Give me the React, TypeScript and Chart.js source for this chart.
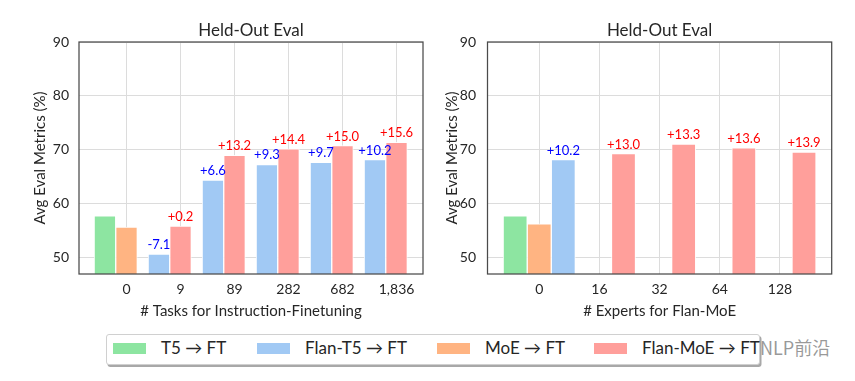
import React, { useEffect, useRef } from 'react';
import { Chart, registerables } from 'chart.js';

Chart.register(...registerables);

const FONT = 'Lato, "DejaVu Sans", sans-serif';
const TEXT = '#262626';

// ---- Left panel: number of tasks ----
const taskLabels = ['0', '9', '89', '282', '682', '1,836'];
const taskT5 = [57.8, null, null, null, null, null];
const taskMoE = [55.7, null, null, null, null, null];
const taskFlanT5 = [null, 50.7, 64.4, 67.3, 67.7, 68.2];
const taskFlanT5Gain = ['', '-7.1', '+6.6', '+9.3', '+9.7', '+10.2'];
const taskFlanMoE = [null, 55.9, 69.0, 70.2, 70.8, 71.4];
const taskFlanMoEGain = ['', '+0.2', '+13.2', '+14.4', '+15.0', '+15.6'];

// ---- Right panel: number of experts ----
const expertLabels = ['0', '16', '32', '64', '128'];
const expertT5 = [57.8, null, null, null, null];
const expertMoE = [56.3, null, null, null, null];
const expertFlanT5 = [68.2, null, null, null, null];
const expertFlanT5Gain = ['+10.2', '', '', '', ''];
const expertFlanMoE = [null, 69.3, 71.1, 70.4, 69.6];
const expertFlanMoEGain = ['', '+13.0', '+13.3', '+13.6', '+13.9'];

const yTicks = [50, 60, 70, 80, 90];

const legendNames = ['T5 → FT', 'Flan-T5 → FT', 'MoE → FT', 'Flan-MoE → FT'];

const GREEN = '#8de5a1';
const BLUE = '#a1c9f4';
const ORANGE = '#ffb482';
const RED = '#ff9f9b';

function series(values: (number | null)[], offset: number, color: string, gains?: string[], gainColor?: string) {
  const data: { x: number; y: number }[] = [];
  const labels: string[] = [];
  values.forEach((v, i) => {
    if (v != null) {
      data.push({ x: i + offset, y: v });
      labels.push(gains ? gains[i] : '');
    }
  });
  return {
    data,
    backgroundColor: color,
    borderColor: 'rgba(255,255,255,0.85)',
    borderWidth: 1,
    grouped: false,
    barPercentage: 1,
    categoryPercentage: 1,
    gainLabels: labels,
    gainColor: gainColor || '#000',
  };
}

const decor = {
  id: 'decor',
  afterDatasetsDraw(chart: any, _args: any, opts: any) {
    const { ctx, chartArea: a } = chart;
    ctx.save();
    chart.data.datasets.forEach((ds: any, di: number) => {
      const meta = chart.getDatasetMeta(di);
      meta.data.forEach((el: any, i: number) => {
        const t = ds.gainLabels && ds.gainLabels[i];
        if (!t) return;
        ctx.fillStyle = ds.gainColor;
        ctx.font = `13px ${FONT}`;
        ctx.textAlign = 'center';
        ctx.textBaseline = 'alphabetic';
        ctx.fillText(t, el.x, el.y - 5);
      });
    });
    ctx.strokeStyle = '#4a4a4a';
    ctx.lineWidth = 1.25;
    ctx.strokeRect(a.left, a.top, a.right - a.left, a.bottom - a.top);
    ctx.fillStyle = TEXT;
    ctx.font = `17px ${FONT}`;
    ctx.textAlign = 'center';
    ctx.textBaseline = 'middle';
    ctx.fillText(opts.title, (a.left + a.right) / 2, a.top - 11);
    ctx.restore();
  },
};

function makeConfig(p: {
  labels: string[];
  datasets: any[];
  xMin: number;
  xMax: number;
  xTitle: string;
  yWidth: number;
  yPad: number;
  yTitlePad: number;
  padRight: number;
}) {
  return {
    type: 'bar',
    data: { datasets: p.datasets },
    plugins: [decor],
    options: {
      animation: false,
      responsive: false,
      maintainAspectRatio: false,
      layout: { padding: { top: 42, right: p.padRight, left: 0, bottom: 0 } },
      plugins: {
        legend: { display: false },
        tooltip: { enabled: false },
        title: { display: false },
        decor: { title: 'Held-Out Eval' },
      },
      scales: {
        x: {
          type: 'linear',
          min: p.xMin,
          max: p.xMax,
          offset: false,
          afterBuildTicks: (s: any) => {
            s.ticks = p.labels.map((_, i) => ({ value: i }));
          },
          afterFit: (s: any) => {
            s.height = 56;
          },
          ticks: {
            callback: (_v: any, i: number) => p.labels[i],
            font: { family: FONT, size: 14 },
            color: TEXT,
            padding: 7,
            maxRotation: 0,
            autoSkip: false,
          },
          grid: { color: '#dcdcdc', lineWidth: 1, drawTicks: false, offset: false },
          border: { display: false },
          title: {
            display: true,
            text: p.xTitle,
            font: { family: FONT, size: 15 },
            color: TEXT,
            padding: { top: 0, bottom: 10 },
          },
        },
        y: {
          min: 47,
          max: 90,
          afterBuildTicks: (s: any) => {
            s.ticks = yTicks.map((v) => ({ value: v }));
          },
          afterFit: (s: any) => {
            s.width = p.yWidth;
          },
          ticks: {
            font: { family: FONT, size: 14 },
            color: TEXT,
            padding: p.yPad,
          },
          grid: { color: '#dcdcdc', lineWidth: 1, drawTicks: false },
          border: { display: false },
          title: {
            display: true,
            text: 'Avg Eval Metrics (%)',
            font: { family: FONT, size: 15 },
            color: TEXT,
            padding: { top: p.yTitlePad, bottom: 0 },
          },
        },
      },
    },
  };
}

function Panel({ config, left, width }: { config: any; left: number; width: number }) {
  const ref = useRef<HTMLCanvasElement>(null);
  useEffect(() => {
    const chart = new Chart(ref.current as HTMLCanvasElement, config);
    return () => chart.destroy();
  }, []);
  return (
    <canvas
      ref={ref}
      width={width}
      height={330}
      style={{ position: 'absolute', left, top: 0, width, height: 330, display: 'block' }}
    />
  );
}

const leftConfig = makeConfig({
  labels: taskLabels,
  datasets: [
    series(taskT5, -0.4, GREEN),
    series(taskMoE, 0, ORANGE),
    series(taskFlanT5, -0.4, BLUE, taskFlanT5Gain, 'blue'),
    series(taskFlanMoE, 0, RED, taskFlanMoEGain, 'red'),
  ],
  xMin: -0.88,
  xMax: 5.49,
  xTitle: '# Tasks for Instruction-Finetuning',
  yWidth: 79,
  yPad: 10,
  yTitlePad: 31,
  padRight: 7,
});

const rightConfig = makeConfig({
  labels: expertLabels,
  datasets: [
    series(expertT5, -0.4, GREEN),
    series(expertMoE, 0, ORANGE),
    series(expertFlanT5, 0.4, BLUE, expertFlanT5Gain, 'blue'),
    series(expertFlanMoE, 0.4, RED, expertFlanMoEGain, 'red'),
  ],
  xMin: -0.86,
  xMax: 4.86,
  xTitle: '# Experts for Flan-MoE',
  yWidth: 57.5,
  yPad: 11.5,
  yTitlePad: 13,
  padRight: 23.3,
});

const legendColors = [GREEN, BLUE, ORANGE, RED];
const swatchLeft = [113, 257, 437, 594];
const textLeft = [161, 305, 485, 642];

export default function App() {
  return (
    <div
      style={{
        position: 'fixed',
        left: 0,
        top: 0,
        width: 855,
        height: 381,
        background: '#fff',
        overflow: 'hidden',
      }}
    >
      <Panel config={leftConfig} left={0} width={430} />
      <Panel config={rightConfig} left={430} width={425} />
      <div
        style={{
          position: 'absolute',
          left: 106,
          top: 334,
          width: 652,
          height: 29,
          border: '1px solid #d0d0d0',
          borderRadius: 3,
          boxShadow: '1.5px 2px 0 #a8a8a8',
          background: '#fff',
        }}
      />
      {legendNames.map((name, i) => (
        <React.Fragment key={name}>
          <div
            style={{
              position: 'absolute',
              left: swatchLeft[i],
              top: 343,
              width: 33,
              height: 10.5,
              background: legendColors[i],
            }}
          />
          <div
            style={{
              position: 'absolute',
              left: textLeft[i],
              top: 338,
              height: 20,
              lineHeight: '20px',
              fontFamily: FONT,
              fontSize: 17,
              color: TEXT,
              whiteSpace: 'nowrap',
            }}
          >
            {name}
          </div>
        </React.Fragment>
      ))}
      <div
        style={{
          position: 'absolute',
          left: 760,
          top: 336,
          lineHeight: '22px',
          fontFamily: '"Noto Sans CJK SC", "Noto Sans", sans-serif',
          fontSize: 18,
          color: 'rgba(120,120,120,0.75)',
          whiteSpace: 'nowrap',
        }}
      >
        NLP前沿
      </div>
    </div>
  );
}
